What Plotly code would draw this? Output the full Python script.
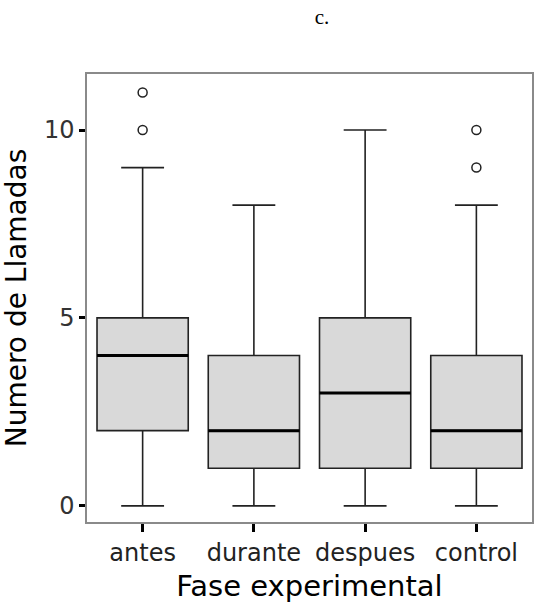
import plotly.graph_objects as go

categories = ["antes", "durante", "despues", "control"]
q1 = [2, 1, 1, 1]
median = [4, 2, 3, 2]
q3 = [5, 4, 5, 4]
lower_whisker = [0, 0, 0, 0]
upper_whisker = [9, 8, 10, 8]
outlier_cats = ["antes", "antes", "control", "control"]
outlier_vals = [10, 11, 9, 10]
y_ticks = [0, 5, 10]

fig = go.Figure()
fig.add_trace(go.Box(
    x=categories, q1=q1, median=median, q3=q3,
    lowerfence=lower_whisker, upperfence=upper_whisker,
    fillcolor="#d9d9d9", line=dict(color="#222222", width=1.6),
    width=0.82, whiskerwidth=0.47, boxpoints=False, hoverinfo="skip",
    showlegend=False,
))
# thick median lines
fig.add_trace(go.Box(
    x=categories, q1=median, median=median, q3=median,
    lowerfence=median, upperfence=median,
    fillcolor="rgba(0,0,0,0)", line=dict(color="#000000", width=3),
    width=0.82, whiskerwidth=0, boxpoints=False, hoverinfo="skip",
    showlegend=False,
))
fig.add_trace(go.Scatter(
    x=outlier_cats, y=outlier_vals, mode="markers",
    marker=dict(symbol="circle-open", size=9, color="#222222", line=dict(width=1.5)),
    showlegend=False, hoverinfo="skip",
))

fig.update_layout(
    width=535, height=603,
    margin=dict(l=87, r=1, t=74, b=81),
    paper_bgcolor="white", plot_bgcolor="white",
    boxmode="overlay",
    font=dict(family="DejaVu Sans, sans-serif", color="#000"),
    title=dict(text="c.", x=0.602, xanchor="center", y=0.972, yanchor="middle",
               font=dict(family="Liberation Serif, Times New Roman, serif", size=21, color="#000")),
)
fig.update_xaxes(
    type="category", categoryorder="array", categoryarray=categories,
    range=[-0.5, 3.5],
    showline=True, linecolor="#8a8a8a", linewidth=1.5, mirror=True,
    ticks="outside", ticklen=8, tickwidth=3, tickcolor="#000",
    tickfont=dict(size=24, color="#222"),
    title=dict(text="Fase experimental", font=dict(size=29, color="#000"), standoff=10),
    showgrid=False, zeroline=False,
)
fig.update_yaxes(
    range=[-0.43, 11.49], tickvals=y_ticks, ticktext=[str(v) for v in y_ticks],
    showline=True, linecolor="#8a8a8a", linewidth=1.5, mirror=True,
    ticks="outside", ticklen=6, tickwidth=3, tickcolor="#000",
    tickfont=dict(size=24, color="#333"),
    title=dict(text="Numero de Llamadas", font=dict(size=28, color="#000"), standoff=10),
    showgrid=False, zeroline=False,
)

fig.write_html("out.html")
